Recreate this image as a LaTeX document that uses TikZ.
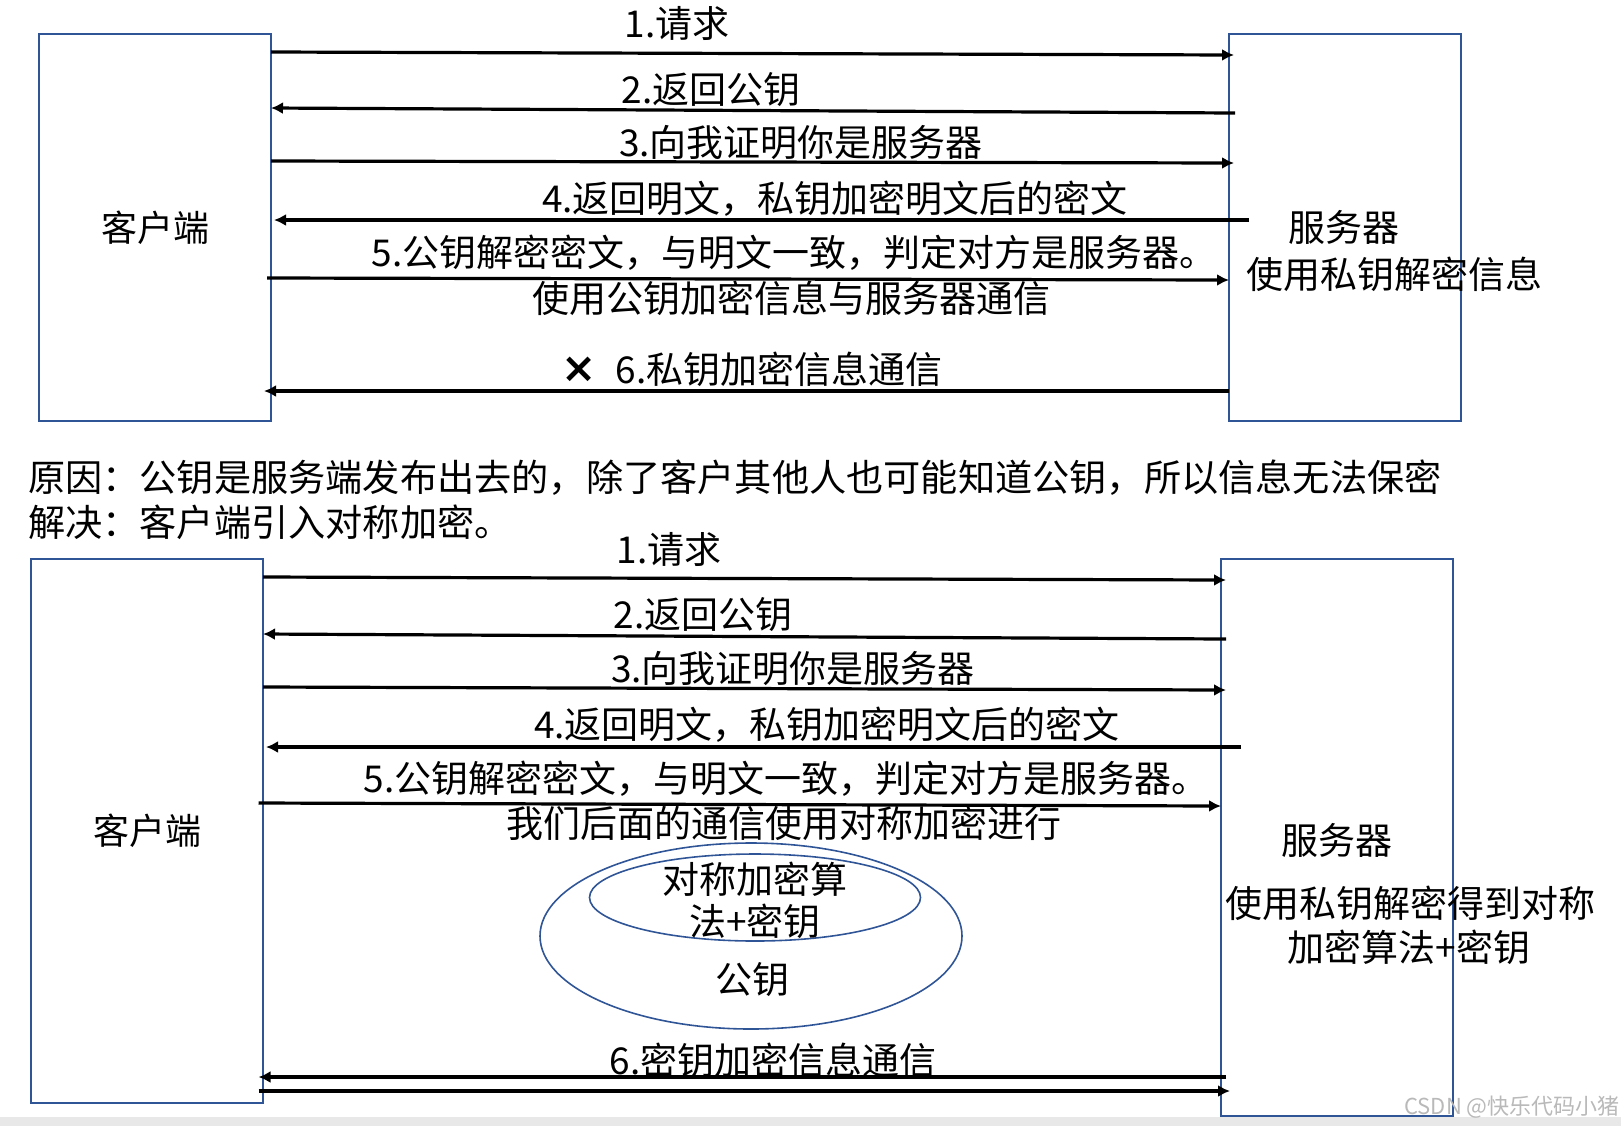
\documentclass[tikz,border=0pt]{standalone}
\usepackage{fontspec}
\setmainfont{Noto Sans CJK SC}
\newfontfamily\symfont{DejaVu Sans}
\usetikzlibrary{positioning, calc, arrows.meta, shapes.geometric}
\definecolor{myblue}{RGB}{47,85,151}
\definecolor{mygray}{RGB}{232,232,232}
\tikzset{
  party/.style={draw=myblue, line width=1pt, minimum width=116pt, inner sep=0, outer sep=0,
    font=\fontsize{18}{22}\selectfont},
  msg/.style={line width=1.6pt, color=black},
  lbl/.style={inner sep=0, outer sep=0, font=\fontsize{18.5}{22}\selectfont},
  note/.style={inner sep=0, outer sep=0, anchor=west, font=\fontsize{18.6}{23}\selectfont},
  keyring/.style={ellipse, draw=myblue, line width=0.8pt, inner sep=0}
}

\begin{document}
\begin{tikzpicture}[x=0.5pt, y=-0.5pt, >={Latex[width=6pt,length=6pt]}]
\useasboundingbox (0,0) rectangle (1621,1126);
\fill[mygray] (0,1117) rectangle (1621,1126);

% first exchange: public key only
\node [party, minimum height=193.5pt] (cl1) at (155,227.5) {客户端};
\node [party, minimum height=193.5pt] (sv1) at (1345,227.5) {};
\node [lbl] (svname1) at (1344,227) {服务器};
\node [lbl] (svdo1) at (1394,274) {使用私钥解密信息};

\draw[msg,->] ($(cl1.north east)+(0,18)$) -- ($(sv1.north west)+(5,21)$);
\draw[msg,->] ($(sv1.north west)+(6,79)$) -- ($(cl1.north east)+(0,74)$);
\draw[msg,->] ($(cl1.north east)+(0,127)$) -- ($(sv1.north west)+(5,129)$);
\draw[msg,->] ($(sv1.north west)+(20,186)$) -- ($(cl1.north east)+(3,186)$);
\draw[msg,->] ($(cl1.north east)+(-4,244)$) -- ($(sv1.north west)+(0,246)$);
\draw[msg,->] ($(sv1.north west)+(0,357)$) -- ($(cl1.north east)+(-7,357)$);

\node [lbl] (m1a) at (677,23) {1.请求};
\node [lbl] (m2a) at (711,90) {2.返回公钥};
\node [lbl] (m3a) at (801,143) {3.向我证明你是服务器};
\node [lbl] (m4a) at (835,199) {4.返回明文，私钥加密明文后的密文};
\node [lbl] (m5a) at (794,253) {5.公钥解密密文，与明文一致，判定对方是服务器。};
\node [lbl] (m5b) at (791,298) {使用公钥加密信息与服务器通信};
\node [inner sep=0, font=\symfont\bfseries\fontsize{21}{22}\selectfont] (cross) at (579,370) {×};
\node [lbl] (m6a) at (779,369) {6.私钥加密信息通信};

% reason and fix
\node [note] (why) at (28,478) {原因：公钥是服务端发布出去的，除了客户其他人也可能知道公钥，所以信息无法保密};
\node [note] (fix) at (28,522) {解决：客户端引入对称加密。};

% second exchange: symmetric key
\node [party, minimum height=272pt] (cl2) at (147,831) {客户端};
\node [party, minimum height=278.5pt] (sv2) at (1337,837.5) {};
\node [lbl] (svname2) at (1337,840) {服务器};
\node [lbl] (svdo2) at (1410,903) {使用私钥解密得到对称};
\node [lbl] (svdo3) at (1409,947) {加密算法+密钥};

\draw[msg,->] ($(cl2.north east)+(0,18)$) -- ($(sv2.north west)+(5,21)$);
\draw[msg,->] ($(sv2.north west)+(5,80)$) -- ($(cl2.north east)+(0,75)$);
\draw[msg,->] ($(cl2.north east)+(0,128)$) -- ($(sv2.north west)+(5,131)$);
\draw[msg,->] ($(sv2.north west)+(20,188)$) -- ($(cl2.north east)+(3,188)$);
\draw[msg,->] ($(cl2.north east)+(-4.5,244)$) -- ($(sv2.north west)+(0,247)$);
\draw[msg,->] ($(sv2.north west)+(5,518)$) -- ($(cl2.north east)+(-4.5,518)$);
\draw[msg,->] ($(cl2.north east)+(-4.5,532)$) -- ($(sv2.north west)+(9,532)$);

\node [lbl] (n1a) at (669,549) {1.请求};
\node [lbl] (n2a) at (703,615) {2.返回公钥};
\node [lbl] (n3a) at (793,669) {3.向我证明你是服务器};
\node [lbl] (n4a) at (827,725) {4.返回明文，私钥加密明文后的密文};
\node [lbl] (n5a) at (786,779) {5.公钥解密密文，与明文一致，判定对方是服务器。};
\node [lbl] (n5b) at (784,823) {我们后面的通信使用对称加密进行};
\node [lbl] (n6a) at (773,1060) {6.密钥加密信息通信};

\node [keyring, minimum width=211pt, minimum height=93pt] (outer) at (751,936) {};
\node [keyring, minimum width=165.5pt, minimum height=43.5pt] (inner) at (755,897.5) {};
\node [lbl] (symA) at (755,879) {对称加密算};
\node [lbl] (symB) at (755,921) {法+密钥};
\node [lbl] (pub) at (752,980) {公钥};

\node [inner sep=0, text=gray!55, font=\fontsize{11}{13}\selectfont] (mark) at (1512,1107) {CSDN @快乐代码小猪};
\end{tikzpicture}
\end{document}
